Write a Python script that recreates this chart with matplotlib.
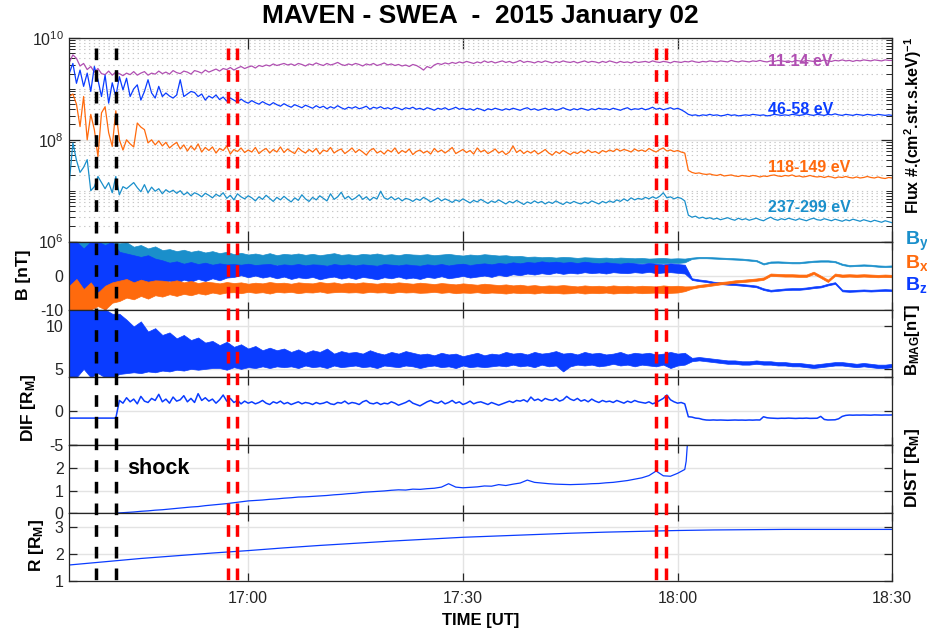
import numpy as np
import matplotlib
matplotlib.use('Agg')
import matplotlib.pyplot as plt
from matplotlib.lines import Line2D
import matplotlib.transforms as mtransforms
from matplotlib.ticker import FixedLocator, NullFormatter, LogFormatterSciNotation

plt.rcParams['font.family'] = ['Liberation Sans', 'DejaVu Sans']
plt.rcParams['axes.unicode_minus'] = False
plt.rcParams['lines.scale_dashes'] = False
plt.rcParams['mathtext.fontset'] = 'custom'
plt.rcParams['mathtext.rm'] = 'Liberation Sans'
plt.rcParams['mathtext.bf'] = 'Liberation Sans:bold'
plt.rcParams['mathtext.it'] = 'Liberation Sans:italic'

# ---------------- data ----------------
# time in minutes after 16:00; series start at 16:35
t_start = 35.0
flux_step = 0.5      # minutes between flux samples
mag_step = 1.0       # minutes between magnetic-field envelope samples
tick_minutes = [60, 90, 120, 150]
tick_labels = ['17:00', '17:30', '18:00', '18:30']
black_events = [38.73, 41.48]
red_events = [57.12, 58.47, 117.03, 118.43]

# log10 of flux
flux_11_14 = [
 9.52, 9.67, 9.60, 9.45, 9.50, 9.38, 9.44, 9.33, 9.40, 9.30,
 9.28, 9.35, 9.27, 9.33, 9.30, 9.26, 9.31, 9.28, 9.34, 9.27,
 9.31, 9.34, 9.27, 9.31, 9.29, 9.35, 9.30, 9.33, 9.29, 9.36,
 9.32, 9.30, 9.35, 9.33, 9.29, 9.36, 9.34, 9.31, 9.37, 9.33,
 9.36, 9.39, 9.35, 9.40, 9.38, 9.42, 9.37, 9.41, 9.44, 9.40,
 9.43, 9.45, 9.41, 9.46, 9.44, 9.47, 9.45, 9.49, 9.46, 9.48,
 9.50, 9.47, 9.49, 9.46, 9.50, 9.48, 9.45, 9.49, 9.47, 9.51,
 9.48, 9.46, 9.50, 9.47, 9.49, 9.52, 9.48, 9.46, 9.49, 9.47,
 9.50, 9.48, 9.45, 9.49, 9.47, 9.50, 9.46, 9.48, 9.51, 9.47,
 9.49, 9.46, 9.48, 9.45, 9.47, 9.44, 9.48, 9.46, 9.42, 9.37,
 9.44, 9.41, 9.47, 9.50, 9.48, 9.51, 9.49, 9.52, 9.50, 9.53,
 9.51, 9.54, 9.52, 9.50, 9.53, 9.51, 9.55, 9.52, 9.54, 9.51,
 9.53, 9.55, 9.52, 9.54, 9.51, 9.53, 9.56, 9.52, 9.54, 9.53,
 9.51, 9.54, 9.52, 9.55, 9.53, 9.51, 9.54, 9.52, 9.55, 9.53,
 9.52, 9.54, 9.51, 9.53, 9.55, 9.52, 9.54, 9.53, 9.51, 9.54,
 9.52, 9.55, 9.53, 9.51, 9.54, 9.52, 9.53, 9.51, 9.54, 9.52,
 9.53, 9.54, 9.52, 9.55, 9.53, 9.52, 9.54, 9.53, 9.51, 9.54,
 9.53, 9.52, 9.54, 9.53, 9.55, 9.53, 9.52, 9.54, 9.53, 9.55,
 9.54, 9.53, 9.55, 9.54, 9.53, 9.56, 9.54, 9.53, 9.55, 9.54,
 9.53, 9.55, 9.54, 9.56, 9.54, 9.53, 9.55, 9.54, 9.56, 9.55,
 9.54, 9.55, 9.53, 9.56, 9.55, 9.54, 9.56, 9.55, 9.54, 9.56,
 9.55, 9.57, 9.55, 9.54, 9.56, 9.55, 9.57, 9.55, 9.56, 9.54,
 9.56, 9.55, 9.57, 9.56, 9.55, 9.57, 9.56, 9.55, 9.57, 9.56,
 9.56]

flux_46_58 = [
 9.31, 9.50, 9.11, 9.37, 9.05, 9.31, 8.95, 9.44, 9.18, 8.85,
 9.27, 8.72, 9.12, 8.85, 9.24, 8.98, 9.21, 8.85, 9.00, 9.08,
 8.78, 8.95, 9.18, 8.92, 8.82, 9.05, 8.85, 8.92, 8.86, 8.82,
 8.88, 9.18, 8.85, 8.90, 8.95, 8.93, 8.85, 8.90, 8.78, 8.86,
 8.82, 8.88, 8.79, 8.84, 8.76, 8.82, 8.78, 8.74, 8.80, 8.75,
 8.72, 8.77, 8.73, 8.70, 8.75, 8.71, 8.68, 8.73, 8.69, 8.66,
 8.71, 8.67, 8.64, 8.69, 8.66, 8.63, 8.68, 8.65, 8.62, 8.67,
 8.63, 8.66, 8.61, 8.65, 8.62, 8.67, 8.63, 8.60, 8.64, 8.62,
 8.65, 8.61, 8.63, 8.66, 8.60, 8.64, 8.62, 8.65, 8.61, 8.63,
 8.60, 8.64, 8.62, 8.59, 8.63, 8.61, 8.64, 8.60, 8.62, 8.59,
 8.63, 8.61, 8.58, 8.62, 8.60, 8.63, 8.59, 8.61, 8.64, 8.60,
 8.62, 8.59, 8.61, 8.58, 8.62, 8.60, 8.57, 8.61, 8.59, 8.62,
 8.60, 8.58, 8.61, 8.59, 8.62, 8.60, 8.58, 8.61, 8.63, 8.59,
 8.61, 8.58, 8.60, 8.62, 8.59, 8.61, 8.58, 8.60, 8.63, 8.60,
 8.58, 8.61, 8.59, 8.62, 8.60, 8.58, 8.61, 8.59, 8.62, 8.60,
 8.61, 8.59, 8.62, 8.60, 8.58, 8.61, 8.63, 8.59, 8.61, 8.60,
 8.62, 8.59, 8.61, 8.64, 8.60, 8.62, 8.59, 8.61, 8.63, 8.60,
 8.62, 8.59, 8.55, 8.50, 8.48, 8.49, 8.47, 8.49, 8.48, 8.50,
 8.48, 8.49, 8.47, 8.48, 8.50, 8.48, 8.49, 8.47, 8.48, 8.49,
 8.48, 8.50, 8.49, 8.48, 8.49, 8.47, 8.48, 8.50, 8.49, 8.48,
 8.49, 8.48, 8.50, 8.49, 8.48, 8.49, 8.51, 8.49, 8.48, 8.50,
 8.49, 8.48, 8.50, 8.49, 8.51, 8.49, 8.48, 8.50, 8.49, 8.48,
 8.50, 8.49, 8.48, 8.50, 8.49, 8.48, 8.50, 8.49, 8.48, 8.49, 8.48]

flux_118_149 = [
 8.85, 8.90, 8.70, 8.26, 8.85, 8.00, 8.50, 8.20, 7.67, 8.53,
 8.65, 8.14, 7.87, 8.57, 8.00, 7.80, 8.00, 7.92, 7.86, 8.33,
 8.25, 8.20, 7.94, 8.00, 7.90, 7.98, 7.88, 7.95, 7.84, 7.90,
 7.95, 7.82, 7.90, 7.78, 7.88, 7.80, 7.92, 7.76, 7.85, 7.79,
 7.86, 7.74, 7.83, 7.79, 7.88, 7.72, 7.81, 7.77, 7.84, 7.75,
 7.80, 7.76, 7.85, 7.73, 7.79, 7.83, 7.74, 7.81, 7.76, 7.86,
 7.75, 7.82, 7.77, 7.73, 7.84, 7.78, 7.74, 7.81, 7.76, 7.83,
 7.72, 7.80, 7.77, 7.85, 7.74, 7.79, 7.82, 7.73, 7.78, 7.84,
 7.75, 7.81, 7.76, 7.70, 7.79, 7.83, 7.74, 7.78, 7.72, 7.80,
 7.76, 7.84, 7.73, 7.79, 7.75, 7.82, 7.71, 7.77, 7.80, 7.74,
 7.78, 7.72, 7.83, 7.76, 7.80, 7.74, 7.79, 7.85, 7.73, 7.77,
 7.81, 7.75, 7.79, 7.72, 7.84, 7.76, 7.80, 7.73, 7.77, 7.82,
 7.74, 7.78, 7.71, 7.76, 7.88, 7.75, 7.80, 7.73, 7.78, 7.74,
 7.79, 7.72, 7.76, 7.81, 7.74, 7.70, 7.77, 7.73, 7.79, 7.75,
 7.71, 7.76, 7.73, 7.78, 7.74, 7.80, 7.75, 7.77, 7.73, 7.79,
 7.76, 7.80, 7.77, 7.82, 7.78, 7.81, 7.79, 7.76, 7.82, 7.78,
 7.80, 7.77, 7.83, 7.79, 7.76, 7.81, 7.84, 7.78, 7.80, 7.77,
 7.79, 7.76, 7.74, 7.40, 7.36, 7.34, 7.35, 7.33, 7.32, 7.33,
 7.31, 7.30, 7.32, 7.29, 7.30, 7.31, 7.29, 7.28, 7.30, 7.29,
 7.28, 7.30, 7.29, 7.27, 7.29, 7.28, 7.30, 7.31, 7.29, 7.28,
 7.30, 7.29, 7.31, 7.28, 7.29, 7.27, 7.28, 7.30, 7.28, 7.27,
 7.28, 7.26, 7.28, 7.27, 7.25, 7.27, 7.26, 7.28, 7.26, 7.25,
 7.27, 7.25, 7.26, 7.28, 7.26, 7.25, 7.27, 7.25, 7.24, 7.26, 7.25]

flux_237_299 = [
 7.16, 7.94, 7.60, 7.36, 7.46, 7.61, 7.00, 7.08, 7.28, 7.16,
 7.04, 7.16, 6.96, 7.28, 6.92, 7.08, 7.04, 7.10, 7.16, 7.06,
 6.98, 7.12, 6.96, 7.07, 6.99, 7.04, 6.94, 7.02, 6.97, 7.01,
 6.95, 7.00, 6.92, 6.97, 6.90, 6.96, 6.93, 6.88, 6.95, 6.91,
 6.86, 6.93, 6.89, 6.96, 6.85, 6.91, 6.82, 6.94, 6.88, 6.84,
 6.90, 6.86, 6.80, 6.88, 6.83, 6.91, 6.85, 6.79, 6.87, 6.82,
 6.89, 6.83, 6.78, 6.86, 6.81, 6.92, 6.84, 6.79, 6.87, 6.82,
 6.90, 6.85, 6.80, 6.94, 6.83, 6.88, 6.97, 6.84, 6.89, 6.82,
 6.86, 6.92, 6.83, 6.88, 6.81, 6.87, 6.84, 6.99, 6.86, 6.83,
 6.88, 6.82, 6.86, 6.80, 6.85, 6.83, 6.79, 6.84, 6.81, 6.87,
 6.83, 6.78, 6.82, 6.86, 6.80, 6.84, 6.81, 6.77, 6.82, 6.79,
 6.84, 6.80, 6.76, 6.81, 6.78, 6.83, 6.79, 6.75, 6.80, 6.77,
 6.82, 6.78, 6.74, 6.79, 6.76, 6.81, 6.77, 6.73, 6.78, 6.75,
 6.80, 6.76, 6.79, 6.74, 6.78, 6.75, 6.80, 6.76, 6.73, 6.78,
 6.75, 6.79, 6.76, 6.74, 6.78, 6.75, 6.80, 6.77, 6.74, 6.79,
 6.76, 6.80, 6.77, 6.82, 6.79, 6.84, 6.80, 6.86, 6.82, 6.85,
 6.83, 6.87, 6.84, 6.88, 6.85, 6.89, 6.96, 6.86, 6.88, 6.84,
 6.87, 6.85, 6.80, 6.52, 6.48, 6.50, 6.46, 6.48, 6.45, 6.47,
 6.44, 6.46, 6.43, 6.45, 6.47, 6.44, 6.42, 6.46, 6.43, 6.45,
 6.42, 6.44, 6.46, 6.43, 6.41, 6.45, 6.48, 6.44, 6.42, 6.45,
 6.43, 6.46, 6.44, 6.42, 6.45, 6.43, 6.41, 6.44, 6.46, 6.43,
 6.42, 6.45, 6.43, 6.41, 6.44, 6.42, 6.40, 6.43, 6.41, 6.44,
 6.42, 6.40, 6.43, 6.41, 6.39, 6.42, 6.40, 6.38, 6.41, 6.39, 6.37]

# magnetic field components: lower / upper envelope per minute [nT]
by_lo = [
 -8, -10, -5, -10, -3, -6, -2, 0.0, -0.5, 1.0,
 0.5, 1.5, 1.0, 2.0, 1.5, 2.2, 1.8, 2.5, 2.0, 2.6,
 2.2, 2.8, 2.4, 3.0, 2.8, 3.1, 2.7, 3.0, 2.9, 3.2,
 2.8, 3.1, 2.9, 3.0, 2.7, 3.1, 2.9, 3.2, 2.8, 3.0,
 3.1, 2.8, 3.0, 2.9, 3.2, 2.8, 3.0, 2.9, 3.1, 2.8,
 3.0, 3.2, 2.9, 3.1, 2.8, 3.0, 3.2, 2.9, 3.1, 3.0,
 3.0, 3.2, 3.1, 3.3, 3.2, 3.4, 3.3, 3.5, 3.3, 3.4,
 3.5, 3.3, 3.4, 3.6, 3.4, 3.5, 3.7, 3.5, 3.6, 3.7,
 3.6, 3.8, 3.7, 3.6, 3.8, 3.7, 3.9, 4.9, 5.1, 5.1,
 5.0, 4.9, 4.8, 4.7, 4.6, 4.4, 4.2, 3.25, 3.75, 3.8,
 3.7, 3.6, 3.6, 3.8, 4.0, 4.1, 4.1, 3.9, 3.1, 2.7,
 2.8, 2.9, 2.8, 2.6, 2.5, 2.6]
by_hi = [
 10, 10, 10, 10, 10, 10, 10, 9.5, 9.8, 8.5,
 9.0, 8.0, 8.6, 7.5, 7.8, 7.2, 7.6, 7.0, 7.4, 6.8,
 7.2, 6.6, 7.0, 6.3, 6.7, 6.2, 6.5, 6.1, 6.6, 6.0,
 6.4, 6.2, 6.5, 6.1, 6.4, 6.0, 6.3, 6.6, 6.1, 6.3,
 6.0, 6.4, 6.2, 6.5, 6.1, 6.3, 6.0, 6.4, 6.2, 6.1,
 6.3, 6.0, 6.2, 6.4, 6.1, 5.9, 6.2, 6.0, 6.3, 6.1,
 5.9, 6.0, 5.7, 5.8, 5.5, 5.6, 5.4, 5.5, 5.3, 5.5,
 5.4, 5.2, 5.4, 5.3, 5.2, 5.3, 5.1, 5.3, 5.2, 5.1,
 5.2, 5.0, 5.1, 5.2, 5.0, 5.1, 5.0, 5.3, 5.5, 5.5,
 5.4, 5.3, 5.2, 5.1, 5.0, 4.8, 4.6, 3.65, 4.15, 4.2,
 4.1, 4.0, 4.0, 4.2, 4.4, 4.5, 4.5, 4.3, 3.5, 3.1,
 3.2, 3.3, 3.2, 3.0, 2.9, 3.0]
bx_lo = [
 -10, -10, -10, -10, -9, -10, -8, -7.5, -6.5, -7.0,
 -6.0, -6.8, -5.8, -6.2, -5.5, -6.0, -5.4, -5.8, -5.2, -5.6,
 -5.0, -5.4, -5.0, -4.9, -5.2, -4.8, -5.1, -4.9, -5.3, -4.8,
 -5.0, -4.8, -5.2, -4.9, -5.0, -4.7, -5.1, -4.9, -4.8, -5.0,
 -4.9, -5.1, -4.8, -5.0, -4.9, -5.2, -4.8, -5.0, -4.9, -5.1,
 -5.0, -4.8, -5.1, -4.9, -5.2, -5.0, -5.1, -4.9, -5.2, -5.0,
 -5.1, -5.3, -5.0, -5.2, -5.1, -5.3, -5.0, -5.2, -5.1, -5.3,
 -5.2, -5.0, -5.3, -5.1, -5.2, -5.0, -5.3, -5.1, -5.2, -5.0,
 -5.2, -5.1, -5.0, -5.2, -5.1, -5.0, -4.6, -3.85, -3.45, -3.2,
 -2.9, -2.6, -2.4, -2.1, -1.95, -1.75, -1.55, -1.25, -0.1, -0.2,
 -0.3, -0.3, -0.4, -0.4, 0.45, -0.7, -1.9, -0.1, -0.4, -0.3,
 -0.4, -0.3, -0.4, -0.5, -0.4, -0.5]
bx_hi = [
 -3, -1, -4, -2, -5, -3, -2, -1.5, -1.0, -2.0,
 -1.2, -1.8, -1.4, -1.5, -1.8, -1.4, -2.0, -1.6, -2.2, -1.8,
 -2.0, -2.3, -1.9, -2.2, -2.0, -2.4, -2.1, -2.3, -1.9, -2.2,
 -2.1, -2.4, -2.0, -2.2, -2.3, -1.9, -2.2, -2.0, -2.4, -2.1,
 -2.3, -2.0, -2.2, -2.4, -2.1, -2.3, -2.0, -2.2, -2.4, -2.1,
 -2.3, -2.5, -2.2, -2.4, -2.6, -2.3, -2.5, -2.7, -2.4, -2.6,
 -2.8, -2.6, -2.9, -2.7, -3.0, -2.8, -3.1, -2.9, -3.0, -2.8,
 -3.0, -3.2, -2.9, -3.1, -3.0, -3.2, -2.9, -3.1, -3.0, -3.2,
 -3.0, -3.1, -3.2, -2.9, -3.1, -3.0, -3.2, -3.15, -2.75, -2.5,
 -2.2, -1.9, -1.7, -1.4, -1.25, -1.05, -0.85, -0.55, 0.6, 0.5,
 0.4, 0.4, 0.3, 0.3, 1.15, 0.0, -1.2, 0.6, 0.3, 0.4,
 0.3, 0.4, 0.3, 0.2, 0.3, 0.2]
bz_lo = [
 -10, -10, -10, -10, -8, -10, -7, -5, -4, -3.5,
 -4.5, -3, -3.5, -2, -1.5, -2.2, -1.2, -1.8, -1.0, -1.6,
 -0.8, -1.4, -0.6, -0.4, 0.1, -0.5, 0.0, -0.6, -0.2, -0.8,
 -0.3, -1.0, -0.5, -0.8, -0.4, -1.1, -0.6, -0.3, -0.9, -0.5,
 -1.0, -0.4, -0.7, -1.1, -0.5, -0.8, -0.3, -0.9, -0.6, -1.0,
 -0.4, -0.7, -0.2, -0.8, -0.5, -0.1, -0.6, -0.3, 0.0, -0.4,
 0.2, -0.2, 0.4, 0.1, 0.6, 0.3, 0.7, 0.4, 0.9, 0.5,
 0.8, 0.6, 1.0, 0.7, 0.9, 0.6, 1.0, 0.8, 0.7, 1.0,
 0.8, 1.1, 0.7, 0.9, 1.0, 0.8, 0.6, -1.3, -1.65, -1.9,
 -2.3, -2.5, -2.7, -2.8, -3.0, -3.2, -3.45, -4.25, -4.7, -4.5,
 -4.3, -4.2, -4.2, -4.0, -3.7, -3.5, -2.9, -2.45, -4.65, -4.8,
 -4.7, -4.6, -4.7, -4.6, -4.5, -4.6]
bz_hi = [
 10, 10, 8, 10, 10, 9, 10, 7, 6.5, 6,
 5.5, 6, 5, 4.5, 3.8, 4.2, 3.5, 4.0, 3.4, 3.8,
 3.2, 3.6, 3.3, 3.4, 3.2, 3.5, 3.1, 3.3, 3.4, 3.0,
 3.3, 3.1, 3.4, 3.0, 3.3, 3.2, 2.9, 3.4, 3.1, 3.3,
 3.0, 3.3, 3.1, 2.9, 3.4, 3.2, 3.0, 3.3, 3.1, 2.9,
 3.3, 3.1, 3.4, 3.0, 3.3, 3.5, 3.1, 3.4, 3.6, 3.3,
 3.7, 3.5, 3.9, 3.6, 4.0, 3.8, 4.2, 3.9, 4.1, 3.8,
 4.0, 3.7, 4.1, 3.8, 3.6, 3.9, 3.7, 3.5, 3.8, 3.6,
 3.4, 3.7, 3.5, 3.3, 3.6, 3.4, 3.2, -0.8, -1.15, -1.4,
 -1.8, -2.0, -2.2, -2.3, -2.5, -2.7, -2.95, -3.75, -4.2, -4.0,
 -3.8, -3.7, -3.7, -3.5, -3.2, -3.0, -2.4, -1.95, -4.15, -4.3,
 -4.2, -4.1, -4.2, -4.1, -4.0, -4.1]

# |B| envelope per minute [nT]
bmag_lo = [
 4, 4, 5, 4, 4.5, 4, 4, 4.4, 4.5, 4.6,
 4.5, 4.7, 4.6, 4.8, 4.7, 4.9, 4.8, 5.0, 4.9, 5.0,
 5.1, 5.1, 4.9, 5.2, 5.0, 5.2, 5.1, 5.3, 5.1, 5.3,
 5.2, 5.3, 5.1, 5.4, 5.2, 5.3, 5.1, 5.4, 5.2, 5.3,
 5.4, 5.2, 5.3, 5.1, 5.4, 5.3, 5.2, 5.4, 5.3, 5.1,
 5.3, 5.4, 5.2, 5.3, 5.1, 5.4, 5.2, 5.3, 5.2, 5.3,
 5.4, 5.3, 5.5, 5.3, 5.4, 5.2, 5.5, 5.3, 5.4, 4.7,
 5.3, 5.5, 5.4, 5.5, 5.3, 5.4, 5.6, 5.4, 5.5, 5.3,
 5.5, 5.4, 5.3, 5.5, 5.1, 5.4, 5.5, 5.9, 6.0, 5.9,
 5.8, 5.7, 5.6, 5.6, 5.5, 5.5, 5.6, 5.5, 5.5, 5.4,
 5.4, 5.3, 5.3, 5.2, 5.1, 5.2, 5.3, 5.4, 5.4, 5.3,
 5.2, 5.3, 5.2, 5.1, 5.1, 5.2]
bmag_hi = [
 12, 12, 12, 12, 12, 12, 11.5, 11.5, 10.8, 10.0,
 10.6, 9.4, 9.8, 9.0, 9.3, 8.6, 9.0, 8.4, 8.7, 8.1,
 8.3, 7.8, 8.2, 7.6, 7.9, 7.4, 7.7, 7.2, 7.5, 7.2,
 7.4, 7.0, 7.3, 6.9, 7.2, 7.0, 7.4, 6.8, 7.1, 6.9,
 7.0, 6.8, 7.2, 6.9, 6.7, 7.0, 6.8, 7.1, 6.9, 6.7,
 6.8, 6.6, 6.9, 6.7, 6.8, 6.5, 6.7, 6.9, 6.6, 6.8,
 6.7, 7.0, 6.8, 6.9, 6.7, 7.0, 6.8, 6.9, 7.1, 6.8,
 6.9, 6.7, 7.0, 6.8, 6.9, 6.7, 6.8, 7.0, 6.7, 6.9,
 6.8, 6.9, 6.7, 6.8, 7.0, 6.8, 6.9, 6.3, 6.4, 6.3,
 6.2, 6.1, 6.0, 6.0, 5.9, 5.9, 6.0, 5.9, 5.9, 5.8,
 5.8, 5.7, 5.7, 5.6, 5.5, 5.6, 5.7, 5.8, 5.8, 5.7,
 5.6, 5.7, 5.6, 5.5, 5.5, 5.6]

# DIF [R_M], same sampling as flux
dif = [
 -1.0, -1.0, -1.0, -1.0, -1.0, -1.0, -1.0, -1.0, -1.0, -1.0, -1.0, -1.0, -1.0, -1.0,
 1.6, 1.2, 2.0, 1.4, 1.8, 1.1, 2.2, 1.5, 1.3, 1.9,
 1.6, 2.5, 1.4, 1.8, 1.2, 2.1, 1.5, 1.7, 2.3, 1.4,
 1.9, 1.3, 2.6, 1.6, 2.0, 1.5, 1.8, 1.2, 1.7, 2.4,
 1.5, 1.9, 1.3, 1.6, 1.1, 1.5, 1.2,
 1.4, 1.1, 1.3, 1.6, 1.2, 1.0, 1.4, 1.2, 1.5, 1.1,
 1.3, 1.0, 1.2, 1.4, 1.1, 1.3, 1.2, 1.0, 1.3, 1.1,
 1.2, 1.4, 1.1, 1.0, 1.3, 1.2, 1.5, 1.1, 1.3, 1.2,
 1.0, 1.4, 1.6, 1.2, 1.1, 1.3, 1.0, 1.2, 1.1, 1.4,
 1.2, 0.9, 1.1, 1.3, 1.6, 1.2, 1.0, 0.8, 1.1, 1.4,
 1.6, 1.3, 1.2, 1.5, 1.1, 1.3, 1.6, 1.2, 1.4, 1.0,
 1.2, 1.5, 1.1, 1.3, 1.4, 1.2, 1.0, 1.3, 1.1, 0.9,
 1.1, 1.3, 1.5, 1.3, 1.6, 1.5, 1.7, 1.4, 2.1, 1.6,
 1.8, 1.5, 1.9, 1.7, 1.6, 1.9, 1.5, 1.7, 2.2, 1.8,
 1.6, 1.9, 1.5, 1.7, 1.4, 1.8, 1.5, 1.3, 1.6, 1.4,
 1.5, 1.3, 1.6, 1.4, 1.2, 1.5, 1.3, 1.6, 1.4, 1.3,
 1.2, 1.4, 1.1, 1.3, 1.6, 1.9, 2.4, 1.7, 1.4, 1.2,
 1.3, 1.1, -0.8, -0.85, -1.0, -1.05, -1.2, -1.28, -1.3, -1.27,
 -1.3, -1.28, -1.3, -1.32, -1.3, -1.28, -1.3, -1.29, -1.31, -1.28,
 -1.3, -1.27, -1.28, -0.8, -0.95, -1.0, -1.03, -1.05, -1.02, -1.03,
 -1.0, -1.03, -1.05, -1.02, -1.03, -1.0, -1.04, -1.03, -1.02, -0.75,
 -1.2, -1.28, -1.27, -1.25, -1.1, -0.75, -0.6, -0.55, -0.57, -0.55,
 -0.56, -0.54, -0.55, -0.57, -0.53, -0.55, -0.56, -0.54, -0.55, -0.53]

# DIST [R_M]
dist_start = [(41.5, 0.0)]
dist_minutes_first = 42.0
dist = [
 0.01, 0.03, 0.05, 0.08, 0.10, 0.13, 0.15, 0.18, 0.21, 0.24,
 0.27, 0.29, 0.33, 0.36, 0.39, 0.42, 0.46, 0.50, 0.54, 0.56,
 0.58, 0.61, 0.63, 0.66, 0.68, 0.71, 0.72, 0.74, 0.76, 0.78,
 0.81, 0.83, 0.86, 0.88, 0.92, 0.94, 0.96, 0.98, 1.01, 1.03,
 1.02, 1.06, 1.05, 1.08, 1.10, 1.15, 1.30, 1.15, 1.12, 1.14,
 1.16, 1.20, 1.19, 1.26, 1.22, 1.28, 1.33, 1.46, 1.36, 1.33,
 1.30, 1.28, 1.27, 1.26, 1.27, 1.28, 1.30, 1.31, 1.34, 1.36,
 1.40, 1.44, 1.50, 1.56, 1.66, 1.86, 1.65, 1.63, 1.76, 1.93]
dist_end = [(121.2, 2.3), (121.4, 3.2)]

# R [R_M] every 5 minutes
r_step = 5.0
r_vals = [1.59, 1.71, 1.83, 1.93, 2.03, 2.12, 2.22, 2.31, 2.39, 2.47, 2.54, 2.61,
          2.66, 2.71, 2.76, 2.80, 2.83, 2.86, 2.88, 2.89, 2.90, 2.90, 2.90, 2.90]

# ---------------- style ----------------
C_PURPLE = '#b04fb2'
C_BLUE = '#0a3cff'
C_ORANGE = '#ff6a0d'
C_LBLUE = '#1a8fcb'
AX_COL = '#262626'

W, H = 927, 634
fig = plt.figure(figsize=(W / 100, H / 100), dpi=100)
gs = fig.add_gridspec(6, 1, height_ratios=[3, 1, 1, 1, 1, 1],
                      left=69.3 / W, right=892.3 / W, top=1 - 38 / H, bottom=1 - 581 / H,
                      hspace=0)
axs = [fig.add_subplot(gs[0])]
for i in range(1, 6):
    axs.append(fig.add_subplot(gs[i], sharex=axs[0]))

def px(x, y):
    return x / W, 1 - y / H

ax = axs[0]
ax.set_yscale('log')
for vals, col in [(flux_11_14, C_PURPLE), (flux_46_58, C_BLUE),
                  (flux_118_149, C_ORANGE), (flux_237_299, C_LBLUE)]:
    t = t_start + flux_step * np.arange(len(vals))
    ax.plot(t, 10.0 ** np.array(vals), color=col, lw=0.9)
ax.set_ylim(1e6, 1e10)
ax.yaxis.set_major_locator(FixedLocator([1e6, 1e8, 1e10]))
ax.yaxis.set_major_formatter(LogFormatterSciNotation())
minor = [k * 10.0 ** e for e in range(6, 10) for k in range(1, 10) if not (k == 1 and e % 2 == 0)]
ax.yaxis.set_minor_locator(FixedLocator(minor))
ax.yaxis.set_minor_formatter(NullFormatter())
ax.grid(True, which='minor', axis='y', color='#c8c8c8', lw=0.8, ls=(0, (1, 2.5)))
ax.grid(True, which='major', axis='y', color='#e3e3e3', lw=1.0)

# B components
tm = t_start + mag_step * np.arange(len(by_lo))
ax = axs[1]
for lo, hi, col in [(by_lo, by_hi, C_LBLUE), (bz_lo, bz_hi, C_BLUE), (bx_lo, bx_hi, C_ORANGE)]:
    ax.fill_between(tm, lo, hi, color=col, lw=0.5, edgecolor=col)
ax.set_ylim(-10, 10)
ax.set_yticks([-10, 0, 10])
ax.set_yticklabels(['-10', '0', ''])
ax.grid(True, axis='y', color='#e3e3e3', lw=1.0)

# |B|
ax = axs[2]
ax.fill_between(tm, bmag_lo, bmag_hi, color=C_BLUE, lw=0.5, edgecolor=C_BLUE)
ax.set_ylim(4, 12)
ax.set_yticks([5, 10])
ax.grid(True, axis='y', color='#e3e3e3', lw=1.0)

# DIF
ax = axs[3]
td = t_start + flux_step * np.arange(len(dif))
ax.plot(td, dif, color=C_BLUE, lw=1.1)
ax.set_ylim(-5, 5)
ax.set_yticks([-5, 0, 5])
ax.set_yticklabels(['-5', '0', ''])
ax.grid(True, axis='y', color='#e3e3e3', lw=1.0)

# DIST
ax = axs[4]
dt_ = [p[0] for p in dist_start] + list(dist_minutes_first + np.arange(len(dist))) + [p[0] for p in dist_end]
dv_ = [p[1] for p in dist_start] + dist + [p[1] for p in dist_end]
ax.plot(dt_, dv_, color=C_BLUE, lw=0.9)
ax.set_ylim(0, 3)
ax.set_yticks([0, 1, 2, 3])
ax.set_yticklabels(['0', '1', '2', ''])
ax.grid(True, axis='y', color='#e3e3e3', lw=1.0)

# R
ax = axs[5]
tr = t_start + r_step * np.arange(len(r_vals))
ax.plot(tr, r_vals, color=C_BLUE, lw=0.9)
ax.set_ylim(1, 3.5)
ax.set_yticks([1, 2, 3])
ax.grid(True, axis='y', color='#e3e3e3', lw=1.0)

for i, ax in enumerate(axs):
    ax.set_xlim(35, 150)
    ax.set_xticks(tick_minutes)
    ax.grid(True, axis='x', which='major', color='#e3e3e3', lw=1.0)
    ax.set_axisbelow(True)
    ln = 8 if i == 0 else 5.5
    ax.tick_params(which='major', direction='in', length=ln, width=0.9, top=True, right=True,
                   color=AX_COL, labelcolor=AX_COL, labelsize=11.5, pad=4)
    ax.tick_params(which='minor', direction='in', length=4, width=0.7, top=True, right=True,
                   color=AX_COL)
    ax.tick_params(axis='x', which='minor', length=0)
    for s in ax.spines.values():
        s.set_color(AX_COL)
        s.set_linewidth(0.9)
    if i < 5:
        plt.setp(ax.get_xticklabels(), visible=False)
axs[5].set_xticklabels(tick_labels)
axs[5].tick_params(axis='x', pad=7)

# vertical event lines spanning all panels
trans = mtransforms.blended_transform_factory(axs[5].transData, fig.transFigure)
y_top, y_bot = 1 - 48 / H, 1 - 581 / H
for xs, col in [(black_events, 'black'), (red_events, '#ff0000')]:
    for xv in xs:
        fig.add_artist(Line2D([xv, xv], [y_top, y_bot], transform=trans, color=col,
                              lw=2.5, ls=(0, (8.4, 7.2)), solid_capstyle='butt',
                              dash_capstyle='butt', zorder=10))

# texts
fig.text(*px(480.8, 16), 'MAVEN - SWEA  -  2015 January 02', ha='center', va='center',
         fontsize=19, fontweight='bold', color='black')
fig.text(*px(480.8, 621), 'TIME [UT]', ha='center', va='center', fontsize=12, fontweight='bold')

fig.text(*px(913, 125), r'Flux #.(cm$^{\mathbf{2}}$.str.s.keV)$^{\mathbf{-1}}$', rotation=90,
         ha='center', va='center', fontsize=11.5, fontweight='bold')
fig.text(*px(23.5, 275), 'B [nT]', rotation=90, ha='center', va='center', fontsize=12.5, fontweight='bold')
fig.text(*px(913, 340), r'B$_{\mathbf{MAG}}$[nT]', rotation=90, ha='center', va='center',
         fontsize=12, fontweight='bold')
fig.text(*px(29, 408), r'DIF [R$_{\mathbf{M}}$]', rotation=90, ha='center', va='center',
         fontsize=12.5, fontweight='bold')
fig.text(*px(913, 468), r'DIST [R$_{\mathbf{M}}$]', rotation=90, ha='center', va='center',
         fontsize=12.5, fontweight='bold')
fig.text(*px(36, 545), r'R [R$_{\mathbf{M}}$]', rotation=90, ha='center', va='center',
         fontsize=12.5, fontweight='bold')

fig.text(*px(905, 241), r'B$_{\mathbf{y}}$', ha='left', va='center', fontsize=14, fontweight='bold', color=C_LBLUE)
fig.text(*px(905, 263), r'B$_{\mathbf{x}}$', ha='left', va='center', fontsize=14, fontweight='bold', color=C_ORANGE)
fig.text(*px(905, 285), r'B$_{\mathbf{z}}$', ha='left', va='center', fontsize=14, fontweight='bold', color=C_BLUE)

for txt, y, col in [('11-14 eV', 62, C_PURPLE), ('46-58 eV', 110, C_BLUE),
                    ('118-149 eV', 167, C_ORANGE), ('237-299 eV', 208, C_LBLUE)]:
    fig.text(*px(768, y), txt, ha='left', va='center', fontsize=11.5, fontweight='bold', color=col)

fig.text(*px(127, 468), 'shock', ha='left', va='center', fontsize=15.5, fontweight='bold')

fig.savefig('out.png', dpi=100)
